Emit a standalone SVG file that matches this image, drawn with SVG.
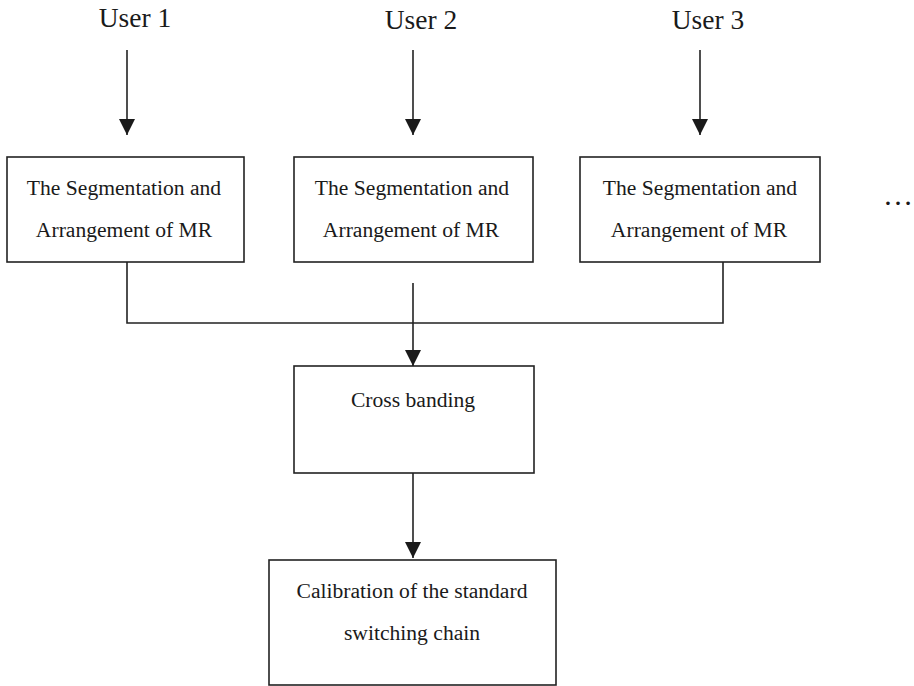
<svg xmlns="http://www.w3.org/2000/svg" width="914" height="686" viewBox="0 0 914 686">
<defs>
<marker id="ah" markerWidth="16" markerHeight="17" refX="16" refY="8" orient="auto" markerUnits="userSpaceOnUse">
<path d="M0,0 L16,8 L0,16 Z" fill="#1a1a1a"/>
</marker>
<style>
.box{fill:#fff;stroke:#222;stroke-width:1.6}
.t{font-family:"Liberation Serif","Times New Roman",serif;font-size:21.6px;fill:#1a1a1a;text-anchor:middle}
.u{font-family:"Liberation Serif","Times New Roman",serif;font-size:27.5px;fill:#1a1a1a;text-anchor:middle}
.ln{fill:none;stroke:#222;stroke-width:1.6}
</style>
</defs>
<rect width="914" height="686" fill="#fff"/>
<g id="user1"><text class="u" x="135" y="27">User 1</text></g>
<g id="user2"><text class="u" x="421" y="29">User 2</text></g>
<g id="user3"><text class="u" x="708" y="29">User 3</text></g>
<g id="seg1"><rect class="box" x="7" y="157" width="237" height="105"/><text class="t" x="124" y="195">The Segmentation and</text><text class="t" x="124" y="237">Arrangement of MR</text></g>
<g id="seg2"><rect class="box" x="294" y="157" width="239" height="105"/><text class="t" x="412" y="195">The Segmentation and</text><text class="t" x="411" y="237">Arrangement of MR</text></g>
<g id="seg3"><rect class="box" x="580" y="157" width="240" height="105"/><text class="t" x="700" y="195">The Segmentation and</text><text class="t" x="699" y="237">Arrangement of MR</text></g>
<g id="ellipsis"><text class="u" x="898" y="205" style="font-size:30px">…</text></g>
<g id="cross"><rect class="box" x="294" y="366" width="240" height="107"/><text class="t" x="413" y="407">Cross banding</text></g>
<g id="calib"><rect class="box" x="269" y="560" width="287" height="125"/><text class="t" x="412" y="598">Calibration of the standard</text><text class="t" x="412" y="640">switching chain</text></g>
<g id="connectors">
<line class="ln" x1="127" y1="50" x2="127" y2="135" marker-end="url(#ah)"/>
<line class="ln" x1="413" y1="50" x2="413" y2="135" marker-end="url(#ah)"/>
<line class="ln" x1="700" y1="50" x2="700" y2="135" marker-end="url(#ah)"/>
<polyline class="ln" points="127,262 127,323 723,323 723,262"/>
<line class="ln" x1="413" y1="283" x2="413" y2="366" marker-end="url(#ah)"/>
<line class="ln" x1="413" y1="473" x2="413" y2="558" marker-end="url(#ah)"/>
</g>
</svg>
